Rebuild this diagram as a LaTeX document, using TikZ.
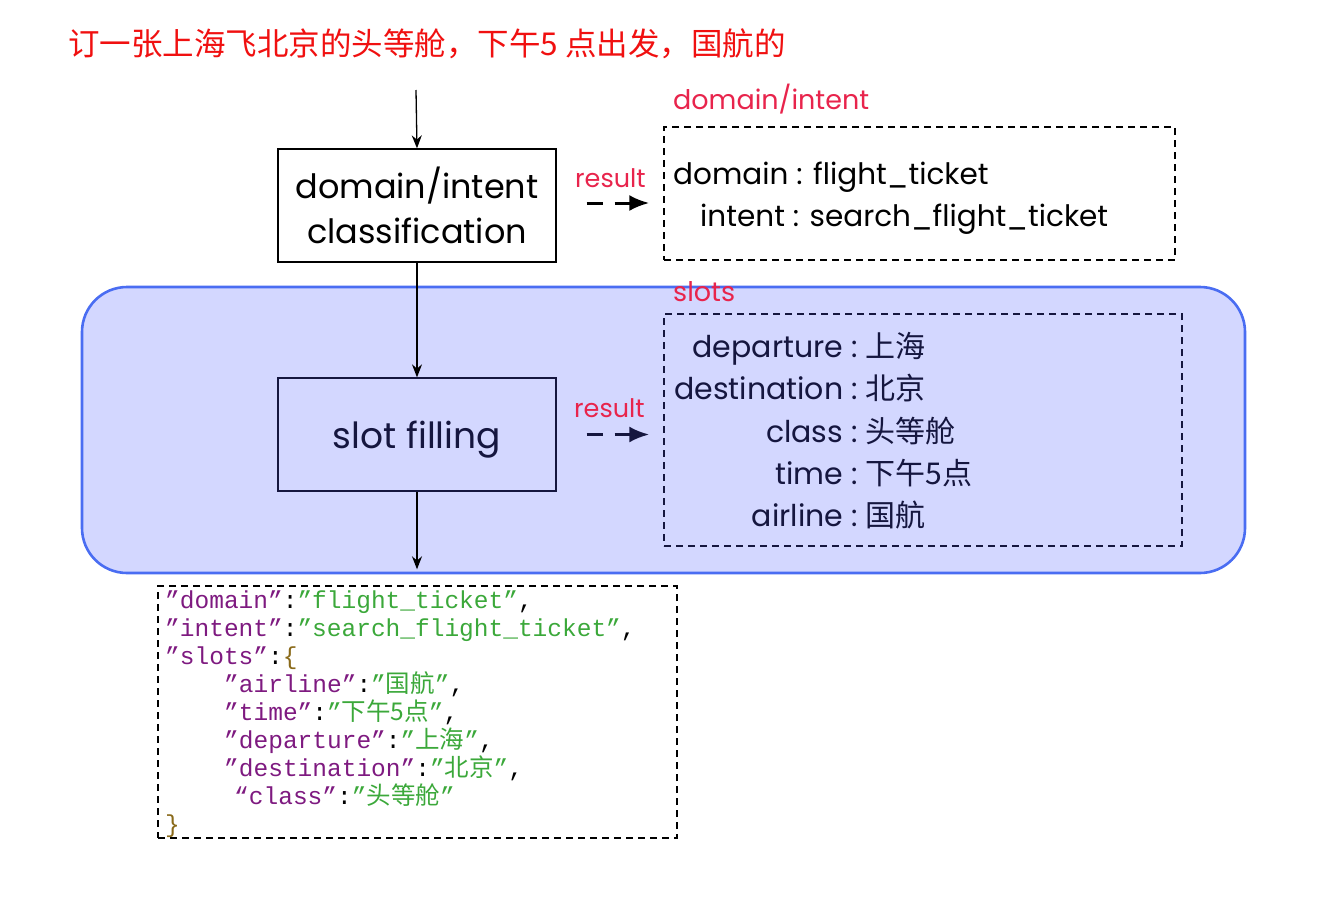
\documentclass[tikz,border=0pt]{standalone}
\usepackage{fontspec}
\setmainfont{Poppins}
\newfontfamily\cjk{Noto Sans CJK SC}
\newfontfamily\jmono{Liberation Mono}
\usetikzlibrary{arrows.meta}
\definecolor{navy}{HTML}{15163F}
\definecolor{redlbl}{HTML}{E8244C}
\definecolor{titlered}{HTML}{F01010}
\definecolor{bluefill}{HTML}{D3D7FF}
\definecolor{blueline}{HTML}{4A6DF2}
\definecolor{jkey}{HTML}{7E1A80}
\definecolor{jval}{HTML}{3BA83A}
\definecolor{jbrace}{HTML}{8A6A1A}
\newcommand\jk[1]{\textcolor{jkey}{#1}}
\newcommand\jv[1]{\textcolor{jval}{#1}}
\tikzset{
  procbox/.style={draw, line width=1.3pt, minimum width=278pt, minimum height=113pt, align=center, inner sep=0pt, font=\fontsize{33.5}{45}\selectfont},
  dbox/.style={draw, line width=1.4pt, dash pattern=on 7pt off 5pt, inner sep=0pt},
  txt/.style={anchor=base west, inner sep=0pt},
  redlab/.style={txt, text=redlbl, font=\fontsize{27}{30}\selectfont},
  reslab/.style={txt, text=redlbl, font=\fontsize{25.5}{28}\selectfont},
  slotline/.style={txt, font=\fontsize{30}{32}\selectfont},
  jline/.style={txt, font=\jmono\fontsize{24.5}{28}\selectfont},
  flow/.style={line width=1.3pt, -{Stealth[length=13pt,width=10pt]}},
  resarrow/.style={line width=3pt, dash pattern=on 16pt off 12pt, -{Latex[length=20pt,width=16pt]}},
}
\begin{document}
\begin{tikzpicture}[x=1pt,y=-1pt]
\path[use as bounding box] (0,0) rectangle (1342,908);
% background region
\draw[fill=bluefill, draw=blueline, line width=2.6pt, rounded corners=45pt] (82,287) rectangle (1245,573);
% title
\node[txt, text=titlered, font=\cjk\fontsize{31.5}{33}\selectfont] (title) at (68,55) {订一张上海飞北京的头等舱，下午5 点出发，国航的};
\coordinate (start) at (416,90);
% process boxes
\node[procbox] (box1) at (417,205.5) {domain/intent\\classification};
\node[procbox, draw=navy, text=navy, font=\fontsize{36}{40}\selectfont] (box2) at (417,434.5) {\raisebox{-5pt}[\height][\depth]{slot filling}};
% dashed result boxes
\node[dbox, minimum width=511pt, minimum height=133pt] (dbox1) at (919.5,193.5) {};
\node[dbox, draw=navy, minimum width=518pt, minimum height=232pt] (dbox2) at (923,430) {};
\node[dbox, minimum width=519pt, minimum height=252pt] (json) at (417.5,712) {};
% labels
\node[redlab] (lab1) at (673,109) {domain/intent};
\node[redlab] (lab2) at (673,301) {slots};
\node[reslab] (res1) at (575,187) {result};
\node[reslab] (res2) at (574,417) {result};
% domain/intent result
\node[slotline, font=\fontsize{29.5}{32}\selectfont] (d1) at (673,184) {domain : flight\_ticket};
\node[slotline, font=\fontsize{29.5}{32}\selectfont] (d2) at (700,226) {intent : search\_flight\_ticket};
% slots result
\node[slotline, text=navy] (s1) at (672,357) {\makebox[171pt][r]{departure}\ :\ {\cjk 上海}};
\node[slotline, text=navy] (s2) at (672,399) {\makebox[171pt][r]{destination}\ :\ {\cjk 北京}};
\node[slotline, text=navy] (s3) at (672,442) {\makebox[171pt][r]{class}\ :\ {\cjk 头等舱}};
\node[slotline, text=navy] (s4) at (672,484) {\makebox[171pt][r]{time}\ :\ {\cjk 下午5点}};
\node[slotline, text=navy] (s5) at (672,526) {\makebox[171pt][r]{airline}\ :\ {\cjk 国航}};
% json
\node[jline] (j1) at (165,608) {\jk{”domain”}:\jv{”flight\_ticket”},};
\node[jline] (j2) at (165,636) {\jk{”intent”}:\jv{”search\_flight\_ticket”},};
\node[jline] (j3) at (165,664) {\jk{”slots”}:\textcolor{jbrace}{\{}};
\node[jline] (j4) at (224,692) {\jk{”airline”}:\jv{”{\cjk 国航}”},};
\node[jline] (j5) at (224,720) {\jk{”time”}:\jv{”{\cjk 下午5点}”},};
\node[jline] (j6) at (224,748) {\jk{”departure”}:\jv{”{\cjk 上海}”},};
\node[jline] (j7) at (224,776) {\jk{”destination”}:\jv{”{\cjk 北京}”},};
\node[jline] (j8) at (234,804) {\jk{“class”}:\jv{”{\cjk 头等舱}”}};
\node[jline] (j9) at (165,832) {\textcolor{jbrace}{\}}};
% connectors
\draw[flow] (start) -- (box1.north);
\draw[flow] (box1.south) -- (box2.north);
\draw[flow, shorten >=16pt] (box2.south) -- (json.north -| box2.south);
\draw[resarrow, shorten <=30pt, shorten >=14pt] (box1.east |- 0,203) -- (dbox1.west |- 0,203);
\draw[resarrow, navy, shorten <=30pt, shorten >=14pt] (box2.east) -- (dbox2.west |- box2.east);
\end{tikzpicture}
\end{document}
